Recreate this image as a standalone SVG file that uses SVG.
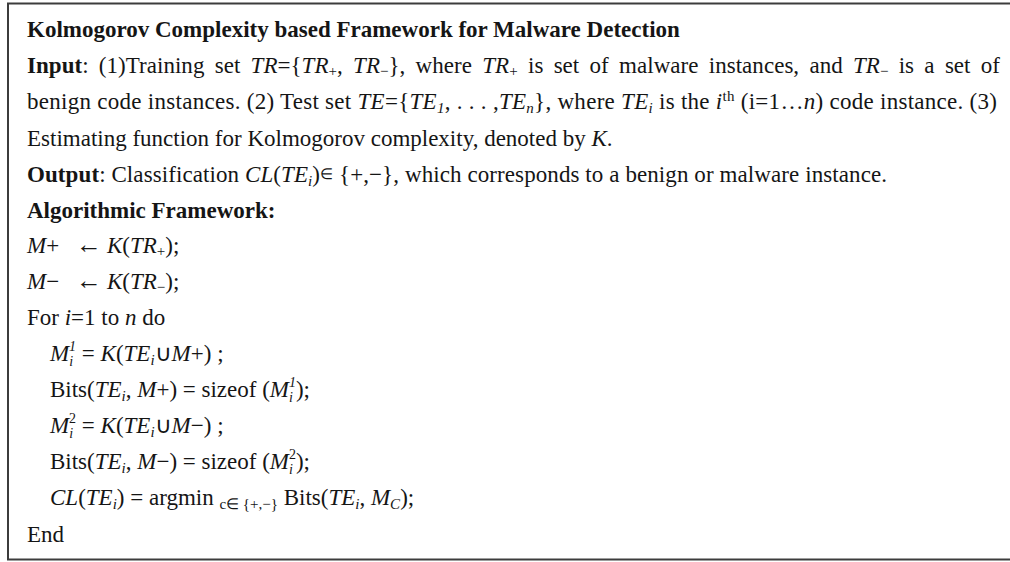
<svg xmlns="http://www.w3.org/2000/svg" width="1010" height="562" viewBox="0 0 1010 562">
<style>
text{font-family:"Liberation Serif","Times New Roman",serif;font-size:23px;fill:#151515}
.b{font-weight:bold}
.i{font-style:italic}
.s{font-size:15px}
.m{font-size:14px}
.a{font-size:26px}
</style>
<rect x="0" y="0" width="1010" height="562" fill="#ffffff"/>
<rect id="frame" x="8" y="3.5" width="1010" height="556" fill="none" stroke="#3c3c3c" stroke-width="2"/>
<g id="header">
<text x="27" y="37" class="b">Kolmogorov Complexity based Framework for Malware Detection</text>
<text x="27" y="73" textLength="973" lengthAdjust="spacing" word-spacing="4.5"><tspan class="b">Input</tspan>: (1)Training set <tspan class="i">TR</tspan>={<tspan class="i">TR</tspan><tspan class="s" baseline-shift="-3">+</tspan>, <tspan class="i">TR</tspan><tspan class="s" baseline-shift="-3">−</tspan>}, where <tspan class="i">TR</tspan><tspan class="s" baseline-shift="-3">+</tspan> is set of malware instances, and <tspan class="i">TR</tspan><tspan class="s" baseline-shift="-3">−</tspan> is a set of</text>
<text x="27" y="109" textLength="970" lengthAdjust="spacing">benign code instances. (2) Test set <tspan class="i">TE</tspan>={<tspan class="i">TE</tspan><tspan class="s i" baseline-shift="-4">1</tspan>, . . . ,<tspan class="i">TE</tspan><tspan class="s i" baseline-shift="-4">n</tspan>}, where <tspan class="i">TE</tspan><tspan class="s i" baseline-shift="-4">i</tspan> is the <tspan class="i">i</tspan><tspan class="s" baseline-shift="8">th</tspan> (i=1…<tspan class="i">n</tspan>) code instance. (3)</text>
<text x="27" y="146">Estimating function for Kolmogorov complexity, denoted by <tspan class="i">K</tspan>.</text>
<text x="27" y="182" textLength="860" lengthAdjust="spacing"><tspan class="b">Output</tspan>: Classification <tspan class="i">CL</tspan>(<tspan class="i">TE</tspan><tspan class="s i" baseline-shift="-4">i</tspan>)<tspan class="s" baseline-shift="3">∈</tspan> {+,−}, which corresponds to a benign or malware instance.</text>
<text x="27" y="218" class="b">Algorithmic Framework:</text>
</g>
<g id="algorithm">
<text y="253"><tspan x="27" class="i">M</tspan>+<tspan x="76" class="a">←</tspan><tspan x="107" class="i">K</tspan>(<tspan class="i">TR</tspan><tspan class="s" baseline-shift="-3">+</tspan>);</text>
<text y="289"><tspan x="27" class="i">M</tspan>−<tspan x="76" class="a">←</tspan><tspan x="107" class="i">K</tspan>(<tspan class="i">TR</tspan><tspan class="s" baseline-shift="-3">−</tspan>);</text>
<text x="27" y="325">For <tspan class="i">i</tspan>=1 to <tspan class="i">n</tspan> do</text>
<text x="50" y="361"><tspan class="i">M</tspan><tspan class="m i" baseline-shift="-5">i</tspan><tspan class="m i" dx="-4" baseline-shift="10">1</tspan> = <tspan class="i">K</tspan>(<tspan class="i">TE</tspan><tspan class="s i" baseline-shift="-4">i</tspan>∪<tspan class="i">M</tspan>+) ;</text>
<text x="50" y="397">Bits(<tspan class="i">TE</tspan><tspan class="s i" baseline-shift="-4">i</tspan>, <tspan class="i">M</tspan>+) = sizeof (<tspan class="i">M</tspan><tspan class="m i" baseline-shift="-5">i</tspan><tspan class="m i" dx="-4" baseline-shift="10">1</tspan>);</text>
<text x="50" y="433"><tspan class="i">M</tspan><tspan class="m i" baseline-shift="-5">i</tspan><tspan class="m" dx="-4" baseline-shift="10">2</tspan> = <tspan class="i">K</tspan>(<tspan class="i">TE</tspan><tspan class="s i" baseline-shift="-4">i</tspan>∪<tspan class="i">M</tspan>−) ;</text>
<text x="50" y="469">Bits(<tspan class="i">TE</tspan><tspan class="s i" baseline-shift="-4">i</tspan>, <tspan class="i">M</tspan>−) = sizeof (<tspan class="i">M</tspan><tspan class="m i" baseline-shift="-5">i</tspan><tspan class="m" dx="-4" baseline-shift="10">2</tspan>);</text>
<text x="50" y="505"><tspan class="i">CL</tspan>(<tspan class="i">TE</tspan><tspan class="s i" baseline-shift="-4">i</tspan>) = argmin <tspan class="s" baseline-shift="-4">c∈ {+,−}</tspan> Bits(<tspan class="i">TE</tspan><tspan class="s i" baseline-shift="-4">i</tspan>, <tspan class="i">M</tspan><tspan class="s i" baseline-shift="-4">C</tspan>);</text>
<text x="27" y="542">End</text>
</g>
</svg>
